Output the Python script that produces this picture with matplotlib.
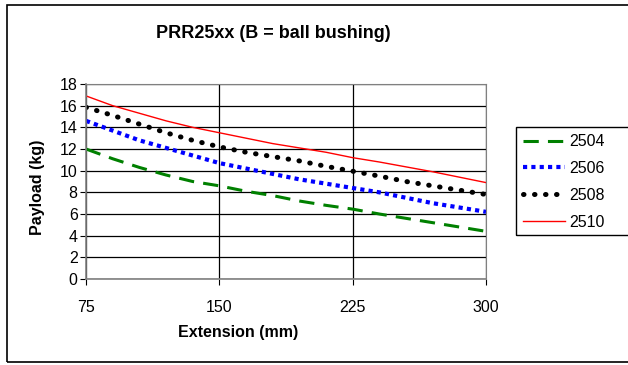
import matplotlib
matplotlib.use("Agg")
import matplotlib.pyplot as plt
from matplotlib.patches import Rectangle

plt.rcParams['font.family'] = ['Liberation Sans', 'DejaVu Sans']

extension = [75, 90, 105, 120, 135, 150, 165, 180, 195, 210, 225, 240, 255, 270, 285, 300]
s2504 = [12.0, 11.1, 10.3, 9.6, 9.0, 8.6, 8.1, 7.7, 7.2, 6.8, 6.45, 6.0, 5.6, 5.2, 4.8, 4.4]
s2506 = [14.6, 13.7, 12.8, 12.1, 11.4, 10.7, 10.2, 9.7, 9.2, 8.8, 8.4, 8.0, 7.5, 7.0, 6.6, 6.2]
s2508 = [15.85, 15.1, 14.3, 13.5, 12.8, 12.2, 11.7, 11.3, 10.9, 10.4, 9.95, 9.5, 9.0, 8.6, 8.2, 7.8]
s2510 = [16.9, 16.0, 15.3, 14.6, 14.0, 13.5, 13.0, 12.5, 12.1, 11.7, 11.2, 10.8, 10.35, 9.9, 9.4, 8.9]
series_names = ["2504", "2506", "2508", "2510"]
xticks = [75, 150, 225, 300]
yticks = list(range(0, 19, 2))

W, H = 628, 365
fig = plt.figure(figsize=(W / 100, H / 100), dpi=100)

# outer border
fig.patches.append(Rectangle((7 / W, 3 / H), 1.0, (362 - 5) / H, transform=fig.transFigure,
                             fill=False, edgecolor='black', linewidth=1.2))
# legend box (extends past right edge as in reference)
fig.patches.append(Rectangle((516 / W, (H - 235) / H), 0.3, 108 / H, transform=fig.transFigure,
                             fill=False, edgecolor='black', linewidth=1.0))

ax = fig.add_axes([86 / W, (H - 279) / H, 400 / W, 195 / H])

l1, = ax.plot(extension, s2504, color='#008000', linestyle=(0, (5, 3)), linewidth=2.2, label=series_names[0])
l2, = ax.plot(extension, s2506, color='#0000FF', linestyle=(0, (1, 1)), linewidth=3.0, label=series_names[1])
l3, = ax.plot(extension, s2508, color='black', linestyle=(0, (0.1, 2.1)), linewidth=3.6,
              label=series_names[2])
l3.set_dash_capstyle('round')
l4, = ax.plot(extension, s2510, color='#FF0000', linestyle='-', linewidth=1.0, label=series_names[3])

ax.set_xlim(75, 300)
ax.set_ylim(0, 18)
ax.set_xticks(xticks)
ax.set_yticks(yticks)
ax.grid(True, color='black', linewidth=0.9)
ax.set_axisbelow(True)
for side in ['top', 'right']:
    ax.spines[side].set_color('#808080')
for side in ['left', 'bottom']:
    ax.spines[side].set_color('#808080')
    ax.spines[side].set_linewidth(1.2)

ax.tick_params(axis='y', labelsize=11.5, length=4, direction='out', pad=2)
ax.tick_params(axis='x', labelsize=11.5, length=4, direction='out', pad=11)

ax.set_xlabel("Extension (mm)", fontsize=11.5, fontweight='bold')
ax.set_ylabel("Payload (kg)", fontsize=11.5, fontweight='bold')
ax.xaxis.set_label_coords((238 - 86) / 400, -(333 - 279) / 195)
ax.xaxis.label.set_va('center')
ax.yaxis.set_label_coords(-(86 - 37) / 400, (279 - 187) / 195)
ax.yaxis.label.set_va('center')

fig.text(273 / W, 1 - 33 / H, "PRR25xx (B = ball bushing)", ha='center', va='center',
         fontsize=13, fontweight='bold')

leg = fig.legend(handles=[l1, l2, l3, l4], loc='upper left',
                 bbox_to_anchor=(516 / W, 1 - 127 / H), frameon=False,
                 fontsize=11.5, handlelength=2.6, handletextpad=0.3, labelspacing=0.74,
                 borderpad=0.45, borderaxespad=0)

fig.savefig("out.png", dpi=100)
